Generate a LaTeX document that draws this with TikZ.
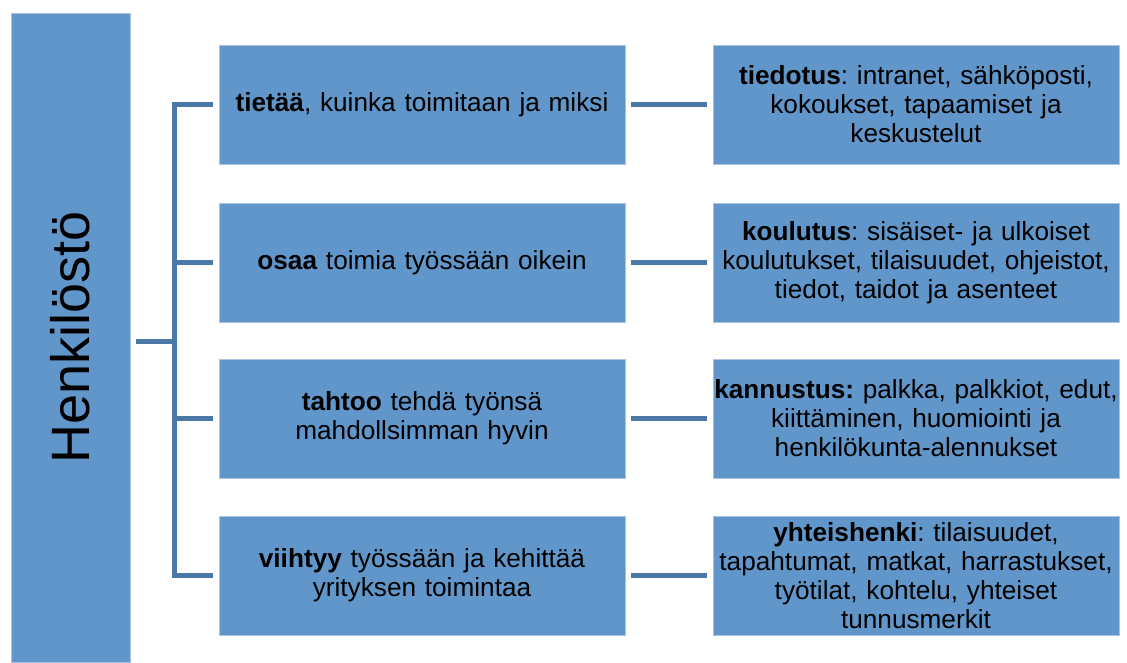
\documentclass[tikz,border=0pt]{standalone}
\usepackage{fontspec}
\setmainfont{Liberation Sans}
\usepackage{tikz}
\frenchspacing
\definecolor{cfill}{HTML}{6096C9}
\definecolor{cedge}{HTML}{A9C4E2}
\definecolor{cline}{HTML}{4A79A8}

\begin{document}
\begin{tikzpicture}[x=1pt,y=-1pt,
  every node/.style={draw=cedge,fill=cfill,line width=0.8pt,align=center,
    inner sep=0pt,text width=406pt,minimum height=119pt,
    font=\fontsize{26.2}{29}\selectfont},
  link/.style={draw=cline,line width=5pt,line join=miter}]
  \useasboundingbox (0,0) rectangle (1127,662);
  \node[rotate=90,text width=,minimum width=649pt,minimum height=119pt,
    font=\fontsize{54}{60}\selectfont] (h) at (70.5,337.5) {Henkilöstö};
  \node (a1) at (422,104.5) {\textbf{tietää}, kuinka toimitaan ja miksi};
  \node (a2) at (422,262.5) {\textbf{osaa} toimia työssään oikein};
  \node (a3) at (422,418.5) {\textbf{tahtoo} tehdä työnsä\\
    mahdollsimman hyvin};
  \node (a4) at (422,575.5) {\textbf{viihtyy} työssään ja kehittää\\
    yrityksen toimintaa};
  \node (b1) at (916,104.5) {\textbf{tiedotus}: intranet, sähköposti,\\
    kokoukset, tapaamiset ja\\ keskustelut};
  \node (b2) at (916,262.5) {\textbf{koulutus}: sisäiset- ja ulkoiset\\
    koulutukset, tilaisuudet, ohjeistot,\\ tiedot, taidot ja asenteet};
  \node (b3) at (916,418.5) {\textbf{kannustus:} palkka, palkkiot, edut,\\
    kiittäminen, huomiointi ja\\ henkilökunta-alennukset};
  \node (b4) at (916,575.5) {\textbf{yhteishenki}: tilaisuudet,\\
    tapahtumat, matkat, harrastukset,\\ työtilat, kohtelu, yhteiset\\
    tunnusmerkit};
  \coordinate (t) at (174.5,341);
  \draw[link,shorten <=6pt] (h.south |- t) -- (t);
  \draw[link,shorten <=6pt,shorten >=6pt] (a1.west) -- (a1.west -| t)
    -- (a4.west -| t) -- (a4.west);
  \foreach \i in {2,3}
    \draw[link,shorten >=6pt] (a\i.west -| t) -- (a\i.west);
  \foreach \i in {1,...,4}
    \draw[link,shorten <=6pt,shorten >=6pt] (a\i) -- (b\i);
\end{tikzpicture}
\end{document}
